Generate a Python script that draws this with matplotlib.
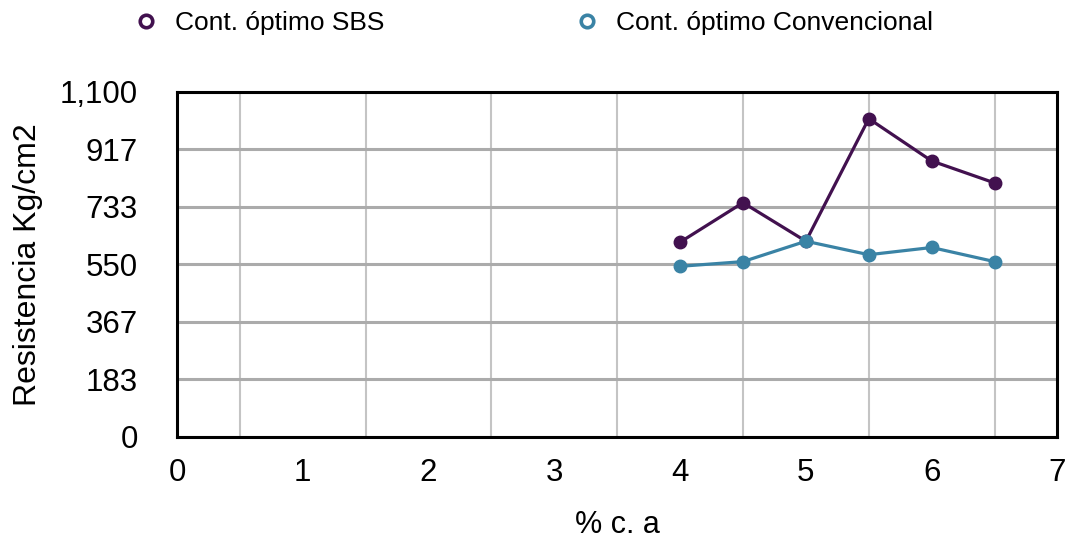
import matplotlib
matplotlib.use("Agg")
import matplotlib.pyplot as plt
from matplotlib.ticker import FixedLocator, MultipleLocator

plt.rcParams['font.family'] = ['Liberation Sans', 'DejaVu Sans']

# contenido de asfalto (%) y resistencia (Kg/cm2)
pct_ca = [4, 4.5, 5, 5.5, 6, 6.5]
res_sbs = [621, 747, 624, 1015, 880, 810]
res_conv = [544, 559, 624, 581, 604, 559]

y_ticks = [0, 183.33, 366.67, 550, 733.33, 916.67, 1100]
y_tick_labels = ["0", "183", "367", "550", "733", "917", "1,100"]

color_sbs = "#42114f"
color_conv = "#3a83a5"

fig = plt.figure(figsize=(10.66, 5.38), dpi=100)
ax = fig.add_axes([0.166, 0.188, 0.826, 0.641])

ax.plot(pct_ca, res_sbs, color=color_sbs, lw=2.3, marker="o", ms=9,
        label="Cont. óptimo SBS", zorder=3)
ax.plot(pct_ca, res_conv, color=color_conv, lw=2.3, marker="o", ms=9,
        label="Cont. óptimo Convencional", zorder=3)

ax.set_xlim(0, 7)
ax.set_ylim(0, 1100)
ax.xaxis.set_major_locator(MultipleLocator(1))
ax.yaxis.set_major_locator(FixedLocator(y_ticks))
ax.set_yticklabels(y_tick_labels)
ax.xaxis.set_minor_locator(FixedLocator([0.5, 1.5, 2.5, 3.5, 4.5, 5.5, 6.5]))

# rejilla: horizontales en los ticks, verticales en los medios
ax.grid(False)
ax.yaxis.grid(True, which="major", color="#ababab", lw=2.2)
ax.xaxis.grid(True, which="minor", color="#c4c4c4", lw=1.5)
ax.set_axisbelow(True)

ax.tick_params(axis="both", which="both", length=0, labelsize=22.5)
ax.tick_params(axis="y", pad=28)
ax.tick_params(axis="x", pad=15)

for s in ax.spines.values():
    s.set_color("black")
    s.set_linewidth(2.2)

ax.set_xlabel("% c. a", fontsize=22, labelpad=16)
ax.set_ylabel("Resistencia Kg/cm2", fontsize=23, labelpad=12)

# leyenda con marcadores huecos encima del gráfico
handles = [
    plt.Line2D([], [], ls="none", marker="o", ms=9, mfc="white", mec=color_sbs, mew=2.6),
    plt.Line2D([], [], ls="none", marker="o", ms=9, mfc="white", mec=color_conv, mew=2.6),
]
fig.legend(handles, ["Cont. óptimo SBS", "Cont. óptimo Convencional"],
           loc="center left", bbox_to_anchor=(0.102, 0.957), ncol=2,
           frameon=False, fontsize=19, handletextpad=0.6, columnspacing=7.2,
           handlelength=1.0)

fig.savefig("out.png", dpi=100)
